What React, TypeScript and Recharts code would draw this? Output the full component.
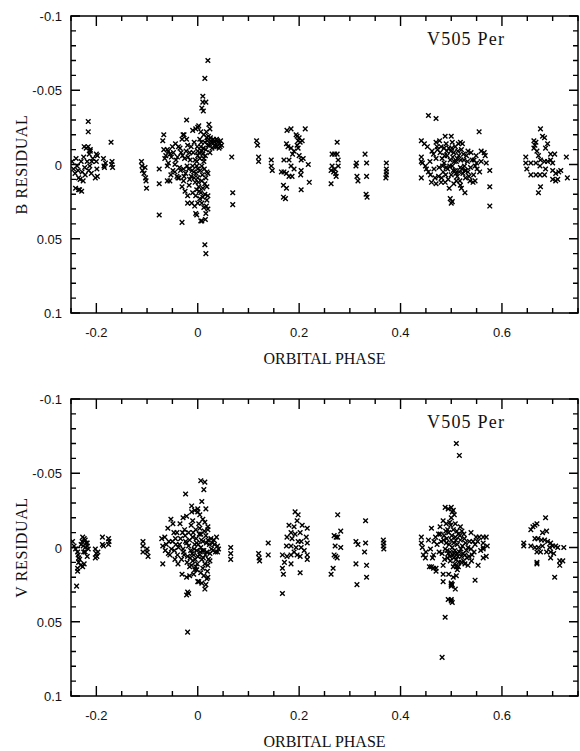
import { ScatterChart, Scatter, XAxis, YAxis, Label } from "recharts";

type Pt = [number, number];

// axis ticks (minor every 0.05 in phase, every 0.01 in residual)
const phaseTicks = [-0.25, -0.2, -0.15, -0.1, -0.05, 0, 0.05, 0.1, 0.15, 0.2, 0.25, 0.3, 0.35, 0.4, 0.45, 0.5, 0.55, 0.6, 0.65, 0.7, 0.75];
const phaseLabels = [-0.2, 0, 0.2, 0.4, 0.6];
const residTicks = [-0.1, -0.09, -0.08, -0.07, -0.06, -0.05, -0.04, -0.03, -0.02, -0.01, 0, 0.01, 0.02, 0.03, 0.04, 0.05, 0.06, 0.07, 0.08, 0.09, 0.1];
const residLabels = [-0.1, -0.05, 0, 0.05, 0.1];

// B residuals, [phase, residual]
const bQuadLate: Pt[] = [
  [-0.248, -0.002], [-0.245, 0.003], [-0.242, 0.006], [-0.24, -0.004], [-0.238, 0.001], [-0.236, 0.004], [-0.235, 0.009],
  [-0.233, 0.017], [-0.229, 0.018], [-0.232, 0.01], [-0.23, -0.002], [-0.228, 0.005], [-0.226, 0.011], [-0.225, -0.005],
  [-0.223, 0.002], [-0.222, 0.007], [-0.22, -0.011], [-0.218, -0.002], [-0.216, -0.029], [-0.216, -0.022], [-0.215, 0.004],
  [-0.214, -0.007], [-0.213, 0.001], [-0.212, -0.01], [-0.21, 0.006], [-0.209, -0.002], [-0.207, -0.004], [-0.2, -0.007],
  [-0.2, -0.002], [-0.199, 0.003], [-0.198, 0.008], [-0.198, -0.006], [-0.186, -0.004], [-0.185, 0.001], [-0.184, 0.002],
  [-0.182, -0.001], [-0.171, -0.015], [-0.17, 0], [-0.169, -0.002], [-0.168, 0.002], [-0.224, -0.012], [-0.216, -0.012],
  [-0.212, -0.009], [-0.202, 0.009], [-0.241, 0.016], [-0.235, 0.017],
];
const bPreMin: Pt[] = [
  [-0.111, -0.002], [-0.11, 0.001], [-0.109, 0.004], [-0.106, 0.006], [-0.104, 0.002], [-0.103, 0.009], [-0.102, 0.011], [-0.101, 0.016],
];
const bPrimary: Pt[] = [
  [-0.076, 0.003], [-0.076, 0.013], [-0.076, 0.034], [-0.069, -0.016], [-0.067, -0.02], [-0.067, -0.01], [-0.06, -0.01],
  [-0.058, -0.009], [-0.055, -0.007], [-0.065, -0.004], [-0.06, 0.001], [-0.058, -0.001], [-0.06, 0.011], [-0.055, 0.011],
  [-0.049, 0.004], [-0.045, 0], [-0.043, -0.003], [-0.041, 0.008], [-0.039, 0.009], [-0.037, 0.009], [-0.035, -0.011],
  [-0.031, -0.017], [-0.031, 0.015], [-0.029, -0.02], [-0.027, -0.02], [-0.031, 0.039], [-0.022, -0.03], [-0.022, -0.017],
  [-0.02, -0.013], [-0.016, -0.008], [-0.025, 0.018], [-0.02, 0.021], [-0.02, 0.026], [-0.012, 0.026], [-0.01, 0.019],
  [-0.006, 0.028], [-0.004, 0.033], [-0.01, -0.023], [-0.004, -0.024], [0, -0.025], [-0.007, -0.015], [-0.01, 0.001],
  [0, -0.006], [-0.002, -0.002], [0, 0.003], [0.002, 0.015], [-0.052, -0.005], [-0.048, -0.008], [-0.045, 0.005],
  [-0.04, -0.005], [-0.036, 0.002], [-0.033, -0.008], [-0.028, 0.003], [-0.026, -0.004], [-0.024, 0.006], [-0.018, 0.003],
  [-0.015, -0.003], [-0.013, 0.008], [-0.008, 0.005], [-0.005, 0.012], [-0.017, 0.014], [-0.028, 0.011], [-0.063, -0.006],
  [-0.05, -0.012], [-0.044, -0.014], [-0.053, 0.007],
  [0.02, -0.07], [0.014, -0.058], [0.01, -0.046], [0.01, -0.042], [0.016, -0.042], [0.008, -0.038], [0.011, -0.036],
  [0.022, -0.027], [0.024, -0.024], [0.037, -0.017], [0.04, -0.015], [0.043, -0.014], [0.035, -0.012], [0.038, -0.012],
  [0, -0.009], [0.008, -0.009], [0.012, -0.004], [0.012, -0.002], [-0.002, 0.001], [0.008, 0.001], [0.018, 0.005],
  [0.02, 0.006], [0, 0.009], [0.008, 0.011], [0.014, 0.013], [0.018, 0.015], [-0.002, 0.017], [0.006, 0.019], [0.014, 0.02],
  [0.02, 0.021], [0, 0.026], [0.008, 0.026], [0.02, 0.03], [0.016, 0.033], [-0.002, 0.034], [0.006, 0.038], [0.008, 0.038],
  [0.014, 0.054], [0.016, 0.06], [0.002, -0.026], [0.006, -0.022], [0.012, -0.02], [0.018, -0.018], [0.004, -0.017],
  [0.014, -0.015], [0.02, -0.013], [0.026, -0.016], [0.03, -0.014], [0.028, -0.011], [0.033, -0.015], [0.045, -0.016],
  [0.047, -0.013], [0.042, -0.011], [0.024, -0.008], [0.016, -0.01], [0.006, -0.012], [0.01, -0.007], [0.004, -0.004],
  [0.016, 0.009], [0.01, 0.016], [0.004, 0.023], [0.012, 0.029], [0.067, -0.005], [0.069, 0.019], [0.069, 0.027],
  [-0.038, -0.012], [-0.034, 0.004], [-0.03, -0.006], [-0.027, 0.008], [-0.023, -0.009], [-0.021, 0.001], [-0.019, -0.005],
  [-0.016, 0.01], [-0.013, -0.012], [-0.011, 0.004], [-0.009, -0.008], [-0.007, 0.009], [-0.005, -0.003], [-0.003, 0.006],
  [-0.001, -0.012], [0.001, 0.012], [0.003, -0.008], [0.005, 0.004], [0.007, -0.015], [0.009, 0.007], [0.011, -0.011],
  [0.013, 0.003], [0.015, -0.006], [0.017, -0.022], [0.019, -0.016], [0.021, -0.019], [0.023, -0.013], [0.025, -0.018],
  [0.027, -0.015], [0.031, -0.017], [0.034, -0.013], [0.039, -0.016], [0.044, -0.012], [0.003, 0.018], [0.01, 0.022],
  [0.018, 0.024], [-0.004, 0.021], [0.015, 0.037], [0.017, 0.028],
];
const bQuadEarlyA: Pt[] = [
  [0.116, -0.016], [0.118, -0.013], [0.12, -0.005], [0.12, -0.002], [0.145, -0.003], [0.145, 0.001], [0.147, 0.004],
];
const bQuadEarlyB: Pt[] = [
  [0.176, -0.023], [0.184, -0.024], [0.212, -0.024], [0.196, -0.019], [0.2, -0.018], [0.206, -0.016], [0.175, -0.014],
  [0.178, -0.012], [0.184, -0.011], [0.19, -0.009], [0.187, -0.007], [0.196, -0.013], [0.198, -0.011], [0.2, -0.006],
  [0.204, -0.003], [0.208, -0.004], [0.218, 0], [0.17, -0.003], [0.18, -0.003], [0.184, 0.001], [0.19, 0.003], [0.204, 0.004],
  [0.203, 0.007], [0.165, 0.005], [0.17, 0.005], [0.175, 0.006], [0.18, 0.008], [0.186, 0.008], [0.22, 0.012], [0.169, 0.014],
  [0.175, 0.016], [0.204, 0.017], [0.169, 0.022], [0.173, 0.023], [0.202, -0.015], [0.194, -0.02], [0.198, -0.016],
];
const bQuadEarlyC: Pt[] = [
  [0.275, -0.015], [0.265, -0.007], [0.27, -0.007], [0.275, -0.007], [0.277, -0.003], [0.265, 0.001], [0.277, 0.001],
  [0.263, 0.004], [0.268, 0.005], [0.27, 0.003], [0.273, 0.008], [0.272, 0.006], [0.263, 0.013], [0.312, 0.001],
  [0.313, -0.001], [0.314, 0.008], [0.316, 0.011], [0.33, -0.007], [0.333, -0.001], [0.333, 0.008], [0.332, 0.02],
  [0.334, 0.022], [0.372, -0.001], [0.372, 0.003], [0.372, 0.005], [0.372, 0.007], [0.371, 0.009],
];
const bSecondary: Pt[] = [
  [0.455, -0.033], [0.47, -0.031], [0.441, -0.016], [0.447, -0.014], [0.453, -0.012], [0.47, -0.015], [0.488, -0.019],
  [0.5, -0.019], [0.441, -0.005], [0.441, -0.002], [0.443, -0.001], [0.449, 0.001], [0.451, 0.003], [0.441, 0.009],
  [0.455, 0.005], [0.459, 0.007], [0.461, 0.012], [0.47, 0.013], [0.48, 0.012], [0.465, -0.007], [0.473, -0.01], [0.48, -0.012],
  [0.498, 0.023], [0.5, 0.026], [0.514, -0.014], [0.518, -0.015], [0.522, -0.014], [0.555, -0.022], [0.533, -0.009],
  [0.539, -0.008], [0.549, -0.006], [0.559, -0.009], [0.565, -0.008], [0.567, -0.006], [0.541, -0.003], [0.545, -0.003],
  [0.559, -0.002], [0.569, -0.001], [0.576, 0.004], [0.547, 0.001], [0.551, 0.003], [0.527, 0.004], [0.533, 0.005],
  [0.537, 0.011], [0.543, 0.012], [0.547, 0.011], [0.518, 0.014], [0.52, 0.016], [0.527, 0.019], [0.502, 0.025],
  [0.576, 0.015], [0.576, 0.028], [0.478, -0.008], [0.482, -0.004], [0.486, -0.001], [0.49, 0.002], [0.484, 0.005],
  [0.492, -0.006], [0.495, -0.011], [0.498, -0.003], [0.502, 0.001], [0.505, -0.008], [0.508, 0.004], [0.51, -0.002],
  [0.512, 0.008], [0.515, -0.006], [0.518, 0.002], [0.52, -0.01], [0.523, 0.006], [0.525, -0.003], [0.528, 0.009],
  [0.53, -0.006], [0.5, 0.007], [0.494, 0.01], [0.488, 0.012], [0.505, 0.013], [0.51, 0.011], [0.496, 0.016], [0.49, -0.014],
  [0.486, -0.011], [0.502, -0.015], [0.508, -0.012], [0.476, 0.002], [0.47, -0.004], [0.466, 0.003], [0.475, 0.008],
  [0.516, 0.005], [0.503, -0.005], [0.493, 0.003], [0.481, 0.009], [0.499, -0.009], [0.512, -0.004],
  [0.472, -0.012], [0.477, -0.016], [0.483, 0.001], [0.487, -0.006], [0.489, 0.007], [0.491, -0.009], [0.497, 0.001],
  [0.501, -0.011], [0.504, 0.004], [0.506, -0.002], [0.509, 0.006], [0.513, -0.009], [0.517, 0.011], [0.519, -0.003],
  [0.521, 0.003], [0.524, -0.007], [0.526, 0.001], [0.529, 0.004], [0.532, -0.002], [0.535, 0.008], [0.538, 0.002],
  [0.544, 0.007], [0.55, -0.001], [0.556, 0.005], [0.462, -0.009], [0.458, -0.002], [0.468, 0.009],
];
const bQuadLateB: Pt[] = [
  [0.676, -0.024], [0.68, -0.019], [0.684, -0.018], [0.663, -0.016], [0.667, -0.015], [0.69, -0.014], [0.686, -0.011],
  [0.663, -0.011], [0.669, -0.009], [0.696, -0.007], [0.704, -0.007], [0.647, -0.005], [0.676, -0.003], [0.69, -0.002],
  [0.684, -0.002], [0.647, -0.001], [0.657, -0.001], [0.667, -0.001], [0.696, -0.003], [0.7, -0.001], [0.649, 0.003],
  [0.675, 0.001], [0.686, 0.003], [0.657, 0.007], [0.667, 0.007], [0.675, 0.007], [0.684, 0.007], [0.7, 0.004], [0.706, 0.006],
  [0.712, 0.005], [0.716, 0.004], [0.7, 0.01], [0.706, 0.011], [0.71, 0.01], [0.727, -0.005], [0.729, 0.009], [0.676, 0.015],
  [0.672, 0.019], [0.665, -0.013], [0.672, -0.006],
];

// V residuals, [phase, residual]
const vQuadLate: Pt[] = [
  [-0.247, -0.004], [-0.244, -0.001], [-0.241, 0.001], [-0.237, 0.003], [-0.235, 0.007], [-0.236, 0.005], [-0.227, -0.007],
  [-0.224, -0.006], [-0.222, -0.005], [-0.22, -0.003], [-0.23, -0.002], [-0.226, -0.001], [-0.222, 0], [-0.218, -0.001],
  [-0.225, 0.003], [-0.222, 0.003], [-0.218, -0.003], [-0.216, 0.001], [-0.235, 0.01], [-0.231, 0.012], [-0.227, 0.013],
  [-0.224, 0.011], [-0.237, 0.014], [-0.237, 0.016], [-0.218, 0.006], [-0.239, 0.026], [-0.202, 0.001], [-0.2, 0.004],
  [-0.197, 0.003], [-0.199, 0.006], [-0.202, 0.007], [-0.188, -0.007], [-0.188, -0.002], [-0.186, -0.001], [-0.176, -0.006],
  [-0.175, -0.004], [-0.176, -0.002], [-0.228, -0.004], [-0.233, 0.008],
];
const vPreMin: Pt[] = [
  [-0.108, -0.004], [-0.108, -0.001], [-0.108, 0.003], [-0.1, 0.001], [-0.1, 0.003], [-0.098, 0.006],
];
const vPrimary: Pt[] = [
  [-0.024, -0.036], [-0.012, -0.028], [-0.053, -0.019], [-0.049, -0.016], [-0.059, -0.013], [-0.071, -0.006], [-0.065, -0.007],
  [-0.069, -0.001], [-0.064, 0.002], [-0.058, 0.004], [-0.055, 0.005], [-0.069, 0.011], [-0.041, -0.01], [-0.035, -0.016],
  [-0.029, -0.02], [-0.022, -0.021], [-0.043, -0.002], [-0.038, 0], [-0.029, 0.001], [-0.039, 0.011], [-0.031, 0.018],
  [-0.022, 0.02], [-0.016, 0.019], [-0.008, 0.018], [-0.02, 0.03], [-0.018, 0.031], [-0.022, 0.032], [-0.02, 0.057],
  [-0.016, -0.005], [-0.01, -0.007], [-0.006, -0.002], [-0.002, 0.002], [-0.008, 0.005], [-0.025, -0.008], [-0.022, -0.003],
  [-0.027, 0.005], [-0.02, 0.006], [-0.012, -0.024], [-0.006, -0.025], [0, -0.024], [-0.016, 0.013], [-0.004, 0.013],
  [0.002, 0.023], [-0.006, 0.015], [0.006, -0.045], [0.014, -0.044], [0.012, -0.039], [0.008, -0.031], [0, -0.026],
  [0.016, -0.026], [0.004, -0.022], [0.01, -0.019], [0.014, -0.017], [0.02, -0.014], [0.02, -0.012], [0.006, -0.009],
  [0.037, -0.007], [0.02, -0.005], [0.029, -0.003], [0.033, -0.002], [0.039, -0.001], [0.039, 0.003], [0.041, 0.001],
  [-0.002, -0.003], [0.006, 0], [0.012, 0.002], [0.018, 0.003], [0, 0.006], [0.008, 0.008], [0.014, 0.011], [0.02, 0.012],
  [-0.002, 0.015], [0.006, 0.017], [0.012, 0.019], [0.018, 0.021], [0.02, 0.02], [0, 0.023], [0.008, 0.024], [0.014, 0.028],
  [0.065, 0], [0.065, 0.004], [0.065, 0.008], [-0.05, -0.004], [-0.046, 0.002], [-0.04, 0.005], [-0.034, -0.006],
  [-0.032, 0.008], [-0.026, -0.012], [-0.018, -0.01], [-0.014, 0.002], [-0.01, 0.009], [-0.004, -0.012], [0.002, -0.016],
  [0.01, -0.004], [0.016, -0.008], [0.024, 0.004], [0.026, -0.006], [0.03, 0.002], [0.004, 0.005], [0.01, 0.014],
  [-0.012, 0.012], [-0.047, -0.01], [-0.062, -0.002], [0.024, 0.009],
  [-0.044, -0.006], [-0.036, -0.002], [-0.03, -0.01], [-0.028, 0.003], [-0.024, -0.004], [-0.021, 0.01], [-0.018, -0.001],
  [-0.015, 0.007], [-0.013, -0.015], [-0.011, 0.004], [-0.009, -0.01], [-0.007, 0.001], [-0.005, 0.008], [-0.003, -0.006],
  [-0.001, 0.011], [0.001, -0.002], [0.003, -0.009], [0.005, 0.003], [0.007, -0.005], [0.009, 0.002], [0.011, 0.007],
  [0.013, -0.011], [0.015, 0.005], [0.017, -0.003], [0.019, 0.016], [0.021, 0.008], [0.023, -0.002], [0.027, 0.001],
  [0.032, -0.005], [0.035, 0.003], [-0.052, 0.001], [-0.057, -0.004], [-0.045, 0.008], [-0.01, -0.018], [0.004, -0.013],
  [0.016, 0.025],
];
const vQuadEarlyA: Pt[] = [
  [0.139, -0.003], [0.12, 0.004], [0.121, 0.007], [0.122, 0.009], [0.139, 0.005],
];
const vQuadEarlyB: Pt[] = [
  [0.192, -0.024], [0.198, -0.022], [0.196, -0.018], [0.18, -0.015], [0.19, -0.014], [0.206, -0.015], [0.216, -0.013],
  [0.184, -0.01], [0.192, -0.009], [0.202, -0.01], [0.176, -0.007], [0.186, -0.006], [0.214, -0.007], [0.204, -0.004],
  [0.216, -0.003], [0.175, -0.001], [0.184, -0.001], [0.194, 0], [0.204, 0], [0.21, 0.002], [0.167, 0.005], [0.176, 0.006],
  [0.184, 0.005], [0.196, 0.005], [0.202, 0.006], [0.216, 0.005], [0.216, 0.008], [0.171, 0.01], [0.184, 0.011],
  [0.167, 0.014], [0.169, 0.018], [0.202, 0.017], [0.167, 0.031], [0.19, 0.003], [0.198, -0.004],
];
const vQuadEarlyC: Pt[] = [
  [0.276, -0.022], [0.269, -0.008], [0.273, -0.007], [0.276, -0.007], [0.282, -0.011], [0.271, -0.001], [0.282, 0],
  [0.269, 0.005], [0.272, 0.006], [0.275, 0.007], [0.267, 0.014], [0.263, 0.018], [0.331, -0.018], [0.312, -0.004],
  [0.316, -0.002], [0.331, -0.003], [0.329, 0.003], [0.312, 0.011], [0.333, 0.012], [0.333, 0.02], [0.314, 0.025],
  [0.366, -0.005], [0.367, -0.003], [0.366, -0.001], [0.367, 0.001],
];
const vSecondary: Pt[] = [
  [0.441, -0.007], [0.441, -0.003], [0.443, 0], [0.445, 0.005], [0.449, 0.007], [0.461, -0.013], [0.469, -0.007],
  [0.475, -0.009], [0.488, -0.027], [0.494, -0.026], [0.5, -0.027], [0.5, -0.02], [0.478, -0.014], [0.484, -0.018],
  [0.49, -0.016], [0.459, 0.001], [0.465, 0.005], [0.457, 0.013], [0.461, 0.013], [0.465, 0.014], [0.47, 0.014], [0.47, 0.016],
  [0.484, 0.012], [0.484, 0.018], [0.484, 0.023], [0.5, 0.025], [0.5, 0.026], [0.494, 0.035], [0.5, 0.036], [0.488, 0.047],
  [0.482, 0.074], [0.51, -0.07], [0.516, -0.062], [0.504, -0.025], [0.506, -0.022], [0.502, -0.024], [0.518, -0.014],
  [0.539, -0.01], [0.525, -0.009], [0.549, -0.007], [0.555, -0.007], [0.563, -0.007], [0.569, -0.007], [0.543, -0.004],
  [0.547, -0.002], [0.563, -0.003], [0.563, 0], [0.563, 0.001], [0.571, -0.001], [0.533, 0], [0.539, 0.001], [0.527, 0.005],
  [0.535, 0.006], [0.541, 0.005], [0.563, 0.007], [0.569, 0.006], [0.52, 0.01], [0.527, 0.011], [0.533, 0.012],
  [0.553, 0.012], [0.504, 0.013], [0.51, 0.013], [0.514, 0.013], [0.504, 0.02], [0.51, 0.019], [0.547, 0.022], [0.5, 0.024],
  [0.502, 0.025], [0.508, 0.028], [0.5, 0.035], [0.502, 0.037], [0.486, -0.008], [0.49, -0.003], [0.492, 0.002],
  [0.495, -0.01], [0.497, 0.006], [0.5, -0.005], [0.502, 0], [0.504, -0.012], [0.506, 0.004], [0.508, -0.007], [0.51, 0.008],
  [0.512, -0.002], [0.514, -0.009], [0.516, 0.003], [0.518, -0.005], [0.52, 0.006], [0.522, -0.001], [0.524, 0.009],
  [0.526, -0.006], [0.53, 0.002], [0.498, 0.009], [0.494, 0.004], [0.488, 0.001], [0.505, 0.007], [0.511, -0.011],
  [0.499, -0.015], [0.493, -0.012], [0.48, -0.004], [0.476, 0.003], [0.472, -0.002], [0.515, 0.01], [0.507, 0.011],
  [0.478, -0.009], [0.482, 0.004], [0.485, -0.005], [0.487, 0.008], [0.489, -0.011], [0.491, -0.006], [0.493, 0.007],
  [0.496, -0.002], [0.498, 0.003], [0.501, -0.008], [0.503, 0.005], [0.505, -0.003], [0.507, 0.002], [0.509, -0.005],
  [0.511, 0.004], [0.513, 0.006], [0.517, -0.008], [0.519, 0.001], [0.521, -0.011], [0.523, 0.004], [0.528, -0.003],
  [0.531, 0.007], [0.536, -0.004], [0.54, 0.009], [0.545, 0.003], [0.552, -0.004], [0.558, 0.002], [0.466, -0.004],
  [0.463, 0.007], [0.455, -0.005], [0.45, 0.003], [0.497, -0.017], [0.508, -0.016], [0.512, 0.015], [0.495, 0.018],
];
const vQuadLateB: Pt[] = [
  [0.686, -0.02], [0.661, -0.014], [0.665, -0.015], [0.669, -0.016], [0.657, -0.012], [0.68, -0.01], [0.688, -0.011],
  [0.665, -0.006], [0.671, -0.006], [0.678, -0.005], [0.684, -0.005], [0.643, -0.003], [0.643, -0.001], [0.657, -0.001],
  [0.665, 0], [0.672, 0], [0.68, -0.001], [0.69, -0.004], [0.696, -0.003], [0.694, 0], [0.7, -0.001], [0.706, -0.001],
  [0.71, 0], [0.722, 0], [0.669, 0.003], [0.676, 0.003], [0.688, 0.003], [0.696, 0.003], [0.702, 0.004], [0.669, 0.01],
  [0.669, 0.011], [0.714, 0.009], [0.72, 0.009], [0.696, 0.007], [0.714, 0.012], [0.704, 0.02],
];

const toRows = (groups: Pt[][]) => groups.flat().map(([phase, resid]) => ({ phase, resid }));
const bData = toRows([bQuadLate, bPreMin, bPrimary, bQuadEarlyA, bQuadEarlyB, bQuadEarlyC, bSecondary, bQuadLateB]);
const vData = toRows([vQuadLate, vPreMin, vPrimary, vQuadEarlyA, vQuadEarlyB, vQuadEarlyC, vSecondary, vQuadLateB]);

const SANS = "'Liberation Sans', Arial, sans-serif";
const SERIF = "'Liberation Serif', 'Times New Roman', serif";
const PLOT_W = 507;
const PLOT_H = 297;
const INK = "#000";

const isIn = (list: number[], v: number) => list.some((l) => Math.abs(l - v) < 1e-9);
const fmt = (v: number) => (Math.abs(v) < 1e-9 ? "0" : String(v));

const Cross = (props: any) => {
  const { cx, cy } = props;
  if (cx == null || cy == null) return null;
  const s = 2.3;
  return (
    <path
      d={`M${cx - s},${cy - s}L${cx + s},${cy + s}M${cx - s},${cy + s}L${cx + s},${cy - s}`}
      stroke={INK}
      strokeWidth={1.4}
      fill="none"
    />
  );
};

// bottom axis tick, also the matching inward tick on the top edge
const PhaseTick = (props: any) => {
  const x = Number(props.x);
  const y = Number(props.y);
  const v = props.payload.value;
  const major = isIn(phaseLabels, v);
  const len = major ? 10 : 5;
  const top = y - PLOT_H;
  return (
    <g>
      <path d={`M${x},${y}V${y - len}M${x},${top}V${top + len}`} stroke={INK} strokeWidth={1.4} fill="none" />
      {major && (
        <text x={x} y={y + 24} textAnchor="middle" fontSize={13} fontFamily={SANS} fill="#111">
          {fmt(v)}
        </text>
      )}
    </g>
  );
};

// left axis tick, also the matching inward tick on the right edge
const ResidTick = (props: any) => {
  const x = Number(props.x);
  const y = Number(props.y);
  const v = props.payload.value;
  const major = isIn(residLabels, v);
  const len = major ? 9 : 5;
  const right = x + PLOT_W;
  return (
    <g>
      <path d={`M${x},${y}H${x + len}M${right},${y}H${right - len}`} stroke={INK} strokeWidth={1.4} fill="none" />
      {major && (
        <text x={x - 9} y={y + 5} textAnchor="end" fontSize={13} fontFamily={SANS} fill="#111">
          {fmt(v)}
        </text>
      )}
    </g>
  );
};

function Panel({ data, yTitle, height, bottomH }: { data: any[]; yTitle: string; height: number; bottomH: number }) {
  return (
    <ScatterChart width={580} height={height} margin={{ top: 16, right: 2, bottom: 0, left: 0 }}>
      <XAxis
        dataKey="phase"
        type="number"
        domain={[-0.25, 0.75]}
        allowDataOverflow
        ticks={phaseTicks}
        interval={0}
        tickSize={0}
        tickMargin={0}
        tickLine={false}
        tick={PhaseTick}
        height={bottomH}
        axisLine={false}
      >
        <Label
          content={(p: any) => {
            const vb = p.viewBox || { x: 71, y: 16 + PLOT_H, width: PLOT_W };
            return (
              <g>
                {/* plot frame */}
                <rect x={vb.x} y={vb.y - PLOT_H} width={vb.width} height={PLOT_H} fill="none" stroke={INK} strokeWidth={1.5} />
                <text x={vb.x + vb.width / 2} y={vb.y + 51} textAnchor="middle" fontSize={16} fontFamily={SERIF} fill="#111">
                  ORBITAL PHASE
                </text>
                <text x={vb.x + 356} y={vb.y - PLOT_H + 29} fontSize={18} letterSpacing={1.2} fontFamily={SERIF} fill="#111">
                  V505 Per
                </text>
              </g>
            );
          }}
        />
      </XAxis>
      <YAxis
        dataKey="resid"
        type="number"
        domain={[-0.1, 0.1]}
        allowDataOverflow
        reversed
        ticks={residTicks}
        interval={0}
        tickSize={0}
        tickMargin={0}
        tickLine={false}
        tick={ResidTick}
        width={71}
        axisLine={false}
      >
        <Label
          content={(p: any) => {
            const vb = p.viewBox || { x: 0, y: 16, height: PLOT_H };
            return (
              <text
                transform={`translate(${vb.x + 21},${vb.y + vb.height / 2}) rotate(-90)`}
                textAnchor="middle"
                dominantBaseline="central"
                fontSize={16}
                letterSpacing={0.6}
                fontFamily={SERIF}
                fill="#111"
              >
                {yTitle}
              </text>
            );
          }}
        />
      </YAxis>
      <Scatter data={data} shape={Cross} isAnimationActive={false} />
    </ScatterChart>
  );
}

export default function App() {
  return (
    <div style={{ position: "absolute", left: 0, top: 0, width: 580, height: 751, background: "#fff" }}>
      <div style={{ position: "absolute", left: 0, top: 0 }}>
        <Panel data={bData} yTitle="B RESIDUAL" height={380} bottomH={67} />
      </div>
      <div style={{ position: "absolute", left: 0, top: 383 }}>
        <Panel data={vData} yTitle="V RESIDUAL" height={368} bottomH={55} />
      </div>
    </div>
  );
}
